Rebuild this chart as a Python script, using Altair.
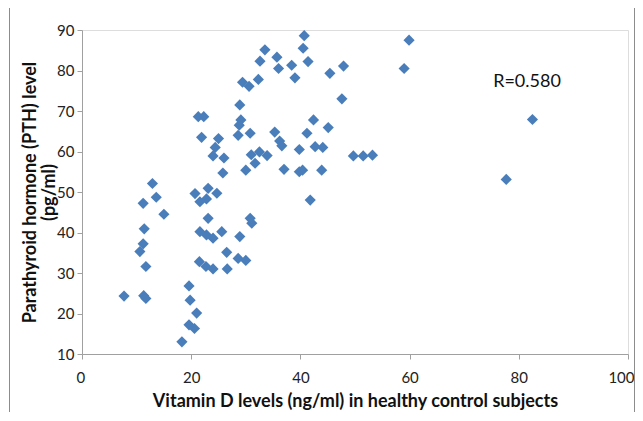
import altair as alt
import pandas as pd

# Vitamin D (ng/ml) and PTH (pg/ml)
vitd = [7.7, 11.3, 11.7, 11.7, 10.6, 11.2, 11.4, 11.2, 12.9, 13.6, 15.0,
        18.3, 19.6, 20.6, 21.0, 19.8, 19.6,
        21.5, 22.7, 24.0, 26.5, 26.6, 28.6, 30.0,
        20.7, 23.1, 24.7, 21.6, 22.8, 23.1, 21.6, 22.8, 24.0, 25.6, 28.9, 30.8, 31.1,
        21.9, 25.0, 24.4, 24.0, 26.0, 25.8, 30.0, 31.0, 32.5, 31.7, 33.9, 28.6, 30.8,
        35.3, 36.2, 36.6, 39.8, 41.2, 42.7, 44.1, 37.0, 39.8, 40.4, 43.9, 41.8,
        49.7, 51.5, 53.2, 42.4, 45.1,
        21.3, 22.3, 29.1, 28.8, 28.9,
        29.4, 30.6, 32.3, 32.6, 33.5, 35.7, 36.0, 38.4, 39.0, 40.7, 40.5, 41.4,
        45.4, 47.9, 47.6, 59.9, 59.0, 82.5, 77.7]
pth = [24.3, 24.4, 23.7, 31.6, 35.3, 37.2, 40.9, 47.2, 52.1, 48.7, 44.5,
       13.0, 17.2, 16.3, 20.1, 23.3, 26.8,
       32.8, 31.6, 31.0, 35.1, 31.0, 33.6, 33.1,
       49.6, 50.9, 49.7, 47.6, 48.3, 43.5, 40.2, 39.4, 38.6, 40.2, 39.0, 43.5, 42.3,
       63.5, 63.2, 61.0, 58.9, 58.4, 54.7, 55.4, 59.2, 59.9, 57.1, 59.0, 64.0, 64.5,
       64.8, 62.6, 61.4, 60.5, 64.5, 61.2, 61.0, 55.6, 55.0, 55.4, 55.4, 48.0,
       58.9, 58.9, 59.1, 67.8, 65.9,
       68.6, 68.6, 67.8, 66.5, 71.5,
       77.1, 76.1, 77.8, 82.3, 85.1, 83.3, 80.5, 81.3, 78.2, 88.6, 85.5, 82.2,
       79.3, 81.1, 73.0, 87.5, 80.5, 67.9, 53.1]

x_ticks = [0, 20, 40, 60, 80, 100]
y_ticks = [10, 20, 30, 40, 50, 60, 70, 80, 90]

ann_text = ["R=0.580"]
ann_x = [75.3]
ann_y = [77.2]

df = pd.DataFrame({"vitd": vitd, "pth": pth})
ann = pd.DataFrame({"t": ann_text, "x": ann_x, "y": ann_y})

FONT = "Lato"
W, H = 546, 324
PAD = {"left": 74, "top": 22, "right": 7, "bottom": 58}

xscale = alt.Scale(domain=[0, 100], nice=False)
yscale = alt.Scale(domain=[10, 90], nice=False)

points = alt.Chart(df).mark_point(
    shape="diamond", filled=True, size=125, color="#4a7ebb", opacity=1
).encode(
    x=alt.X("vitd:Q", scale=xscale,
            axis=alt.Axis(values=x_ticks, title="Vitamin D levels (ng/ml)  in healthy control subjects",
                          grid=False, domainColor="#a0a0a0", tickColor="#a0a0a0",
                          tickSize=5, labelFontSize=15, labelColor="#222222",
                          labelPadding=11, labelFlush=True, labelFlushOffset=6,
                          titleFontSize=18, titleFontWeight="bold", titleColor="#111111",
                          titlePadding=7, labelFont=FONT, titleFont=FONT)),
    y=alt.Y("pth:Q", scale=yscale,
            axis=alt.Axis(values=y_ticks, title=["Parathyroid hormone (PTH) level", "(pg/ml)"],
                          grid=False, domainColor="#a0a0a0", tickColor="#a0a0a0",
                          tickSize=5, labelFontSize=15, labelColor="#222222",
                          labelPadding=3, titleFontSize=18, titleFontWeight="bold",
                          titleColor="#111111", titlePadding=-2, labelFont=FONT, titleFont=FONT,
                          titleLineHeight=19)),
)

text = alt.Chart(ann).mark_text(
    align="left", baseline="middle", fontSize=18, font=FONT, color="#111111"
).encode(x=alt.X("x:Q", scale=xscale), y=alt.Y("y:Q", scale=yscale), text="t:N")

# thin outer frame of the original figure (left and right edges)
frame_df = pd.DataFrame({"side": ["left", "right"]})
frame_left = alt.Chart(frame_df).transform_filter("datum.side == 'left'").mark_rule(
    color="#8c8c8c", strokeWidth=1
).encode(x=alt.value(-72.5), y=alt.value(-PAD["top"]), y2=alt.value(H + PAD["bottom"]))
frame_right = alt.Chart(frame_df).transform_filter("datum.side == 'right'").mark_rule(
    color="#8c8c8c", strokeWidth=1
).encode(x=alt.value(552.5), y=alt.value(-PAD["top"]), y2=alt.value(H + PAD["bottom"]))

chart = alt.layer(points, text, frame_left, frame_right).properties(
    width=W, height=H,
    autosize=alt.AutoSizeParams(type="none"),
    padding=PAD,
).configure_view(stroke=None).configure(background="white")

chart.save("out.html", embed_options={"renderer": "svg", "actions": False})
